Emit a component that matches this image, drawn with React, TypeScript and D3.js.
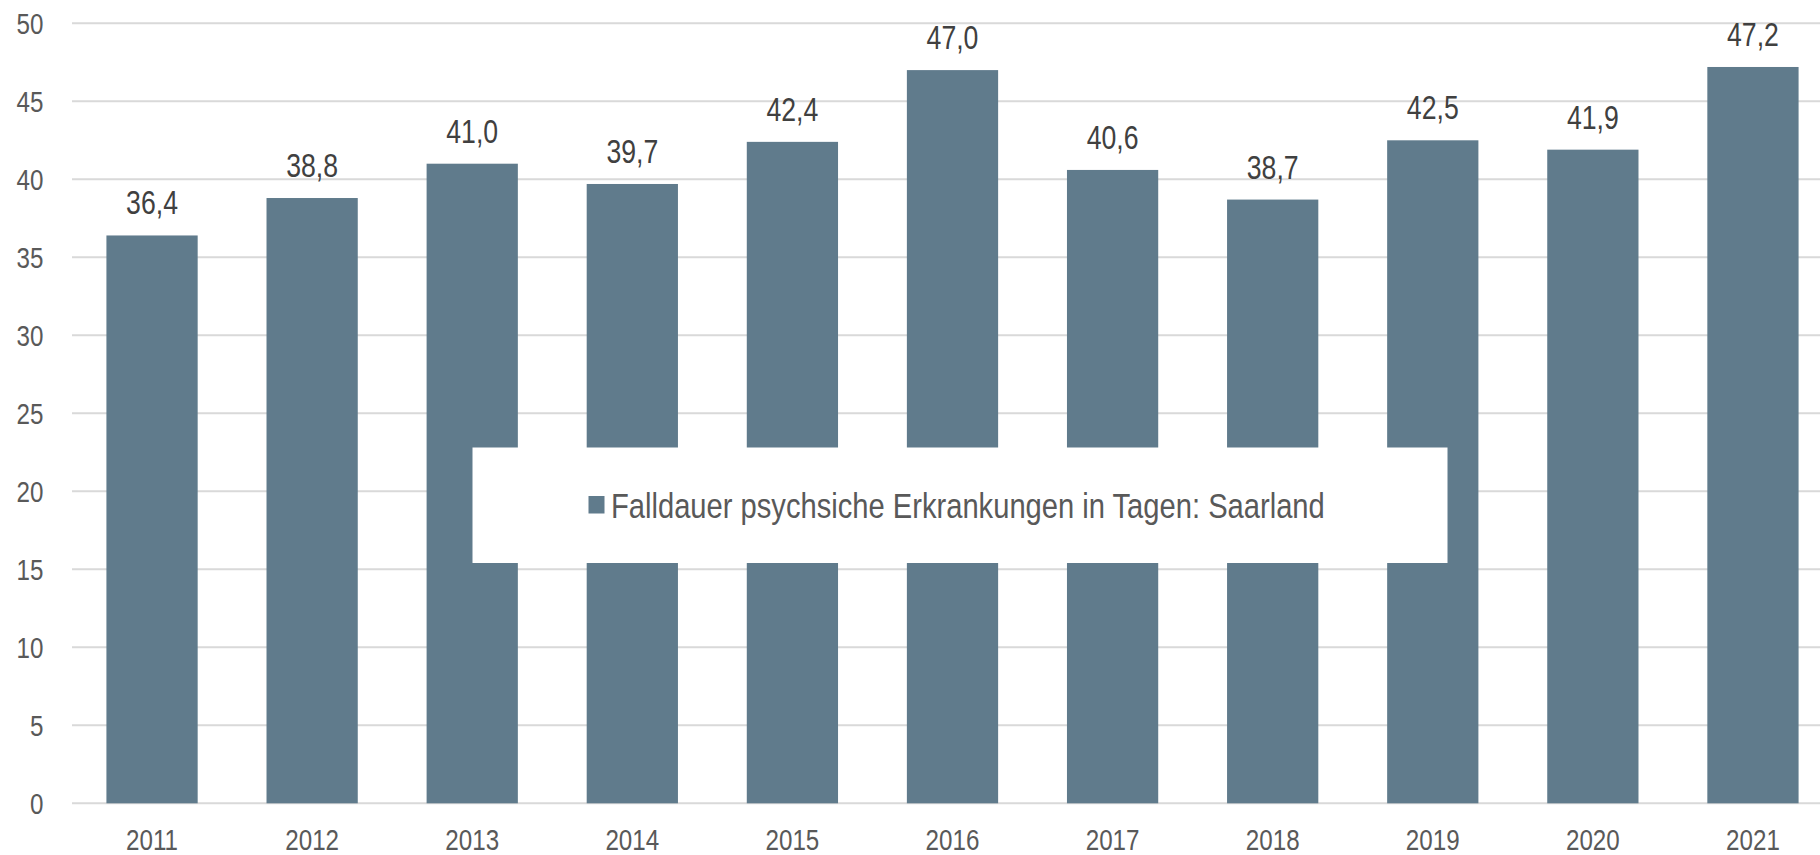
import React from "react";
import * as d3 from "d3";

const years = ["2011", "2012", "2013", "2014", "2015", "2016", "2017", "2018", "2019", "2020", "2021"];
const values = [36.4, 38.8, 41.0, 39.7, 42.4, 47.0, 40.6, 38.7, 42.5, 41.9, 47.2];
const yTicks = [0, 5, 10, 15, 20, 25, 30, 35, 40, 45, 50];
const seriesName = "Falldauer psychsiche Erkrankungen in Tagen: Saarland";

const W = 1820;
const H = 855;
const FONT = "'Liberation Sans', Arial, sans-serif";
const BAR = "#607B8C";
const SX = 0.82;

function T({ x, y, size, sx = SX, anchor = "start", fill, children }: any) {
  return (
    <text
      transform={`translate(${x},${y}) scale(${sx},1)`}
      fontFamily={FONT}
      fontSize={size}
      fill={fill}
      textAnchor={anchor}
    >
      {children}
    </text>
  );
}

export default function App() {
  const x = d3.scaleBand<string>().domain(years).range([72, 1833]).paddingInner(0.43).paddingOuter(0.215);
  const y = d3.scaleLinear().domain([0, 50]).range([803.3, 23.3]);
  const fmt = (v: number) => v.toFixed(1).replace(".", ",");

  return (
    <div style={{ position: "fixed", left: 0, top: 0 }}>
      <svg width={W} height={H} style={{ display: "block", background: "#fff" }}>
        <g>
          {yTicks.map((t) => (
            <line key={t} x1={72} x2={W} y1={y(t)} y2={y(t)} stroke="#D9D9D9" strokeWidth={2} />
          ))}
        </g>
        <g>
          {yTicks.map((t) => (
            <T key={t} x={43.5} y={y(t) + 10.6} size={29.5} anchor="end" fill="#595959">{t}</T>
          ))}
          {years.map((yr) => (
            <T key={yr} x={x(yr)! + x.bandwidth() / 2} y={849.5} size={29.5} anchor="middle" fill="#595959">{yr}</T>
          ))}
        </g>
        <g>
          {years.map((yr, i) => (
            <rect key={yr} x={x(yr)!} y={y(values[i])} width={x.bandwidth()} height={y(0) - y(values[i])} fill={BAR} />
          ))}
        </g>
        <g>
          {years.map((yr, i) => (
            <T key={yr} x={x(yr)! + x.bandwidth() / 2} y={y(values[i]) - 21} size={32.5} anchor="middle" fill="#404040">{fmt(values[i])}</T>
          ))}
        </g>
        <g>
          <rect x={472.5} y={447.5} width={975} height={115.5} fill="#fff" />
          <rect x={588.5} y={496} width={16} height={17.5} fill={BAR} />
          <T x={611} y={517.5} size={34.5} sx={0.845} fill="#595959">{seriesName}</T>
        </g>
      </svg>
    </div>
  );
}
